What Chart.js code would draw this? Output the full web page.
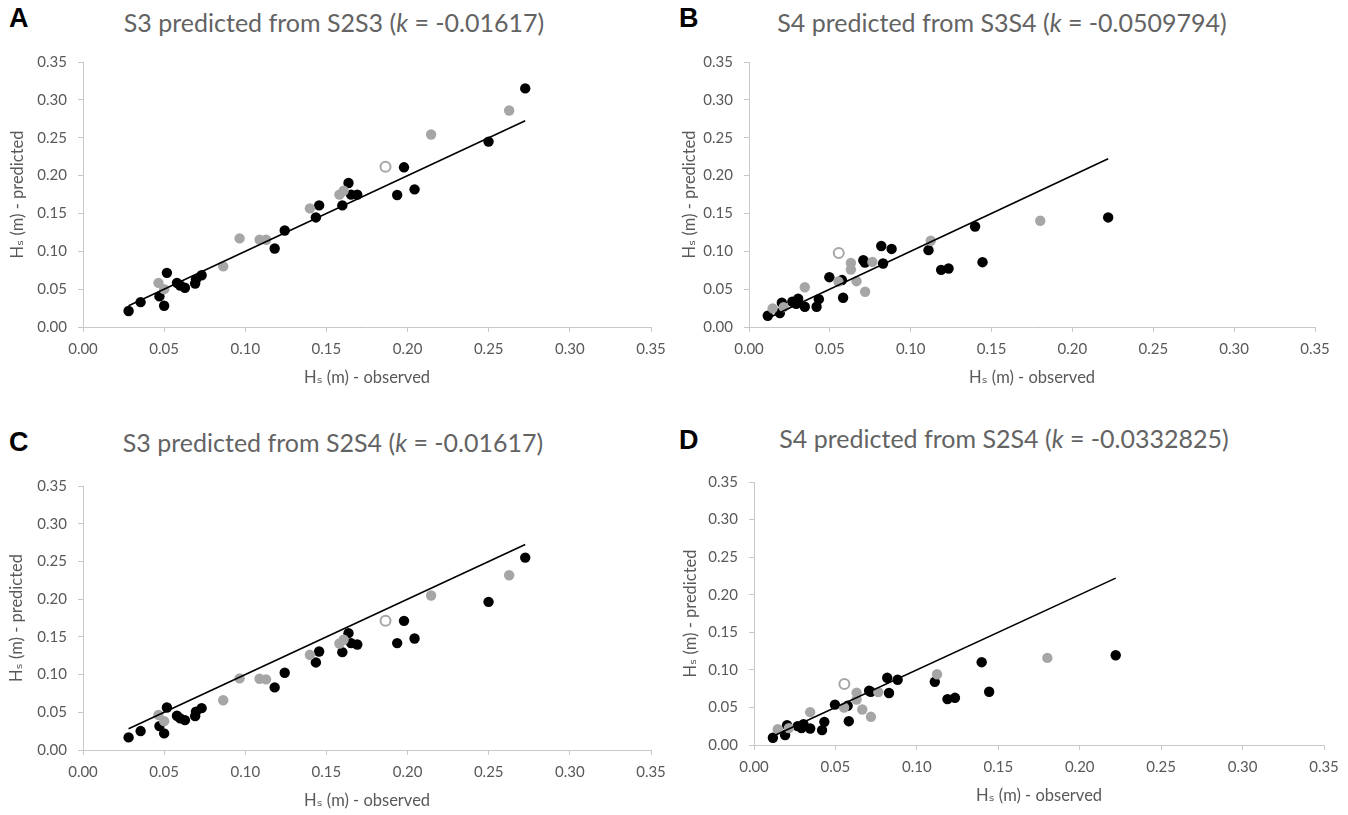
<!DOCTYPE html>
<html>
<head>
<meta charset="utf-8">
<script src="https://cdn.jsdelivr.net/npm/chart.js@4.4.1/dist/chart.umd.min.js"></script>
<style>
  body { margin: 0; background: #fff; width: 1348px; height: 815px; position: relative; overflow: hidden; font-family: Lato, "DejaVu Sans", sans-serif; }
  canvas { position: absolute; }
  .letter { position: absolute; font: bold 27px "Liberation Sans", Arial, sans-serif; color: #000; }
  .ttl { position: absolute; width: 600px; text-align: center; font-size: 25px; font-weight: 400; line-height: 1.2; color: #636363; white-space: nowrap; }
</style>
</head>
<body>
<div class="letter" style="left:9px;top:3px">A</div>
<div class="ttl" style="left:34px;top:7px">S3 predicted from S2S3 (<i>k</i> = -0.01617)</div>
<canvas id="chartA" width="674" height="391" style="left:0px;top:0px"></canvas>

<div class="letter" style="left:679px;top:3px">B</div>
<div class="ttl" style="left:702px;top:7px">S4 predicted from S3S4 (<i>k</i> = -0.0509794)</div>
<canvas id="chartB" width="668" height="391" style="left:680px;top:0px"></canvas>

<div class="letter" style="left:9px;top:427px">C</div>
<div class="ttl" style="left:33px;top:427px">S3 predicted from S2S4 (<i>k</i> = -0.01617)</div>
<canvas id="chartC" width="674" height="390" style="left:0px;top:424px"></canvas>

<div class="letter" style="left:679px;top:425px">D</div>
<div class="ttl" style="left:704px;top:423px">S4 predicted from S2S4 (<i>k</i> = -0.0332825)</div>
<canvas id="chartD" width="668" height="389" style="left:680px;top:420px"></canvas>

<script>
// observed Hs at S3 (panels A and C share these)
const s3ObsBlack = [0.0281, 0.0355, 0.0471, 0.0500, 0.0517, 0.0579, 0.0599, 0.0628, 0.0691, 0.0696, 0.0731, 0.1181,
                    0.1243, 0.1435, 0.1455, 0.1598, 0.1636, 0.1652, 0.1690, 0.1936, 0.1978, 0.2043, 0.2499, 0.2725];
const s3ObsGrey = [0.0465, 0.0500, 0.0864, 0.0965, 0.1088, 0.1128, 0.1398, 0.1580, 0.1606, 0.2145, 0.2626];
const s3ObsOpen = [0.1864];

// predicted S3, panel A
const aPredBlack = [0.0211, 0.0329, 0.0404, 0.0281, 0.0715, 0.0583, 0.0548, 0.0518, 0.0575, 0.0627, 0.0684, 0.1037,
                    0.1275, 0.1447, 0.1606, 0.1606, 0.1902, 0.1748, 0.1748, 0.1743, 0.2109, 0.1818, 0.2449, 0.3151];
const aPredGrey = [0.0583, 0.0500, 0.0801, 0.1170, 0.1154, 0.1152, 0.1567, 0.1748, 0.1800, 0.2542, 0.2860];
const aPredOpen = [0.2115];

// predicted S3, panel C
const cPredBlack = [0.0167, 0.0251, 0.0317, 0.0220, 0.0564, 0.0454, 0.0419, 0.0396, 0.0449, 0.0507, 0.0555, 0.0830,
                    0.1024, 0.1161, 0.1306, 0.1297, 0.1549, 0.1417, 0.1399, 0.1417, 0.1712, 0.1478, 0.1964, 0.2551];
const cPredGrey = [0.0465, 0.0382, 0.0660, 0.0950, 0.0945, 0.0936, 0.1262, 0.1412, 0.1461, 0.2048, 0.2317];
const cPredOpen = [0.1712];

// observed Hs at S4 (panels B and D share these)
const s4ObsBlack = [0.0116, 0.0191, 0.0203, 0.0268, 0.0292, 0.0304, 0.0345, 0.0418, 0.0432, 0.0497, 0.0575, 0.0582,
                    0.0707, 0.0717, 0.0818, 0.0829, 0.0882, 0.1110, 0.1188, 0.1234, 0.1398, 0.1444, 0.2221];
const s4ObsGrey = [0.0146, 0.0214, 0.0345, 0.0553, 0.0630, 0.0630, 0.0665, 0.0718, 0.0763, 0.1124, 0.1801];
const s4ObsOpen = [0.0555];

// predicted S4, panel B
const bPredBlack = [0.0149, 0.0184, 0.0320, 0.0333, 0.0307, 0.0373, 0.0268, 0.0268, 0.0368, 0.0658, 0.0620, 0.0386,
                    0.0882, 0.0851, 0.1070, 0.0838, 0.1031, 0.1015, 0.0755, 0.0772, 0.1328, 0.0856, 0.1447];
const bPredGrey = [0.0246, 0.0263, 0.0525, 0.0600, 0.0846, 0.0759, 0.0605, 0.0466, 0.0860, 0.1139, 0.1403];
const bPredOpen = [0.0977];

// predicted S4, panel D
const dPredBlack = [0.0097, 0.0133, 0.0264, 0.0251, 0.0225, 0.0278, 0.0220, 0.0198, 0.0308, 0.0537, 0.0522, 0.0317,
                    0.0722, 0.0708, 0.0894, 0.0692, 0.0868, 0.0841, 0.0611, 0.0628, 0.1102, 0.0708, 0.1195];
const dPredGrey = [0.0210, 0.0225, 0.0437, 0.0499, 0.0697, 0.0605, 0.0472, 0.0375, 0.0704, 0.0942, 0.1159];
const dPredOpen = [0.0812];

// axis range shared by all four panels
const axisMin = 0;
const axisMax = 0.35;
const axisStep = 0.05;

const xTitle = "H\u209B (m) - observed";
const yTitle = "H\u209B (m) - predicted";

var fontFam = 'Lato, "DejaVu Sans", sans-serif';
var txtGrey = "#595959";
var axisGrey = "#c8c8c8";

function pairs(xs, ys) {
    return xs.map(function (x, i) { return { x: x, y: ys[i] }; });
}

function makePanel(id, obsB, predB, obsG, predG, obsO, predO, yAxisW, rightPad, yTitlePad) {
    // 1:1 line across the observed range
    var allObs = obsB.concat(obsG, obsO);
    var lo = Math.min.apply(null, allObs);
    var hi = Math.max.apply(null, allObs);

    var axisCommon = {
        min: axisMin,
        max: axisMax,
        grid: { drawOnChartArea: false, drawTicks: true, tickLength: 5, color: axisGrey },
        border: { display: true, color: axisGrey, width: 1 },
    };

    new Chart(document.getElementById(id), {
        type: "scatter",
        data: {
            datasets: [
                { data: [{ x: lo, y: lo }, { x: hi, y: hi }], showLine: true, borderColor: "#000", borderWidth: 1.6, pointRadius: 0 },
                { data: pairs(obsO, predO), pointRadius: 5, pointBackgroundColor: "#fff", pointBorderColor: "#a6a6a6", pointBorderWidth: 2 },
                { data: pairs(obsG, predG), pointRadius: 5.2, pointBackgroundColor: "#a6a6a6", pointBorderColor: "#a6a6a6", pointBorderWidth: 0 },
                { data: pairs(obsB, predB), pointRadius: 5.2, pointBackgroundColor: "#000", pointBorderColor: "#000", pointBorderWidth: 0 },
            ],
        },
        options: {
            responsive: false,
            animation: false,
            layout: { padding: { left: 0, top: 62, right: rightPad, bottom: 0 } },
            plugins: { legend: { display: false }, tooltip: { enabled: false } },
            scales: {
                x: Object.assign({}, axisCommon, {
                    afterFit: function (s) { s.height = 64; },
                    ticks: {
                        stepSize: axisStep, autoSkip: false, maxRotation: 0, padding: 8,
                        color: txtGrey, font: { family: fontFam, size: 15 },
                        callback: function (v) { return Number(v).toFixed(2); },
                    },
                    title: { display: true, text: xTitle, color: txtGrey, font: { family: fontFam, size: 16.5 }, padding: { top: 0, bottom: 3 } },
                }),
                y: Object.assign({}, axisCommon, {
                    afterFit: function (s) { s.width = yAxisW; },
                    ticks: {
                        stepSize: axisStep, autoSkip: false, padding: 11,
                        color: txtGrey, font: { family: fontFam, size: 15 },
                        callback: function (v) { return Number(v).toFixed(2); },
                    },
                    title: { display: true, text: yTitle, color: txtGrey, font: { family: fontFam, size: 16.5 }, padding: { top: yTitlePad, bottom: 0 } },
                }),
            },
        },
    });
}

makePanel("chartA", s3ObsBlack, aPredBlack, s3ObsGrey, aPredGrey, s3ObsOpen, aPredOpen, 83, 23, 8);
makePanel("chartB", s4ObsBlack, bPredBlack, s4ObsGrey, bPredGrey, s4ObsOpen, bPredOpen, 69, 33, 0);
makePanel("chartC", s3ObsBlack, cPredBlack, s3ObsGrey, cPredGrey, s3ObsOpen, cPredOpen, 83, 23, 7);
makePanel("chartD", s4ObsBlack, dPredBlack, s4ObsGrey, dPredGrey, s4ObsOpen, dPredOpen, 74, 24, 1);
</script>
</body>
</html>
